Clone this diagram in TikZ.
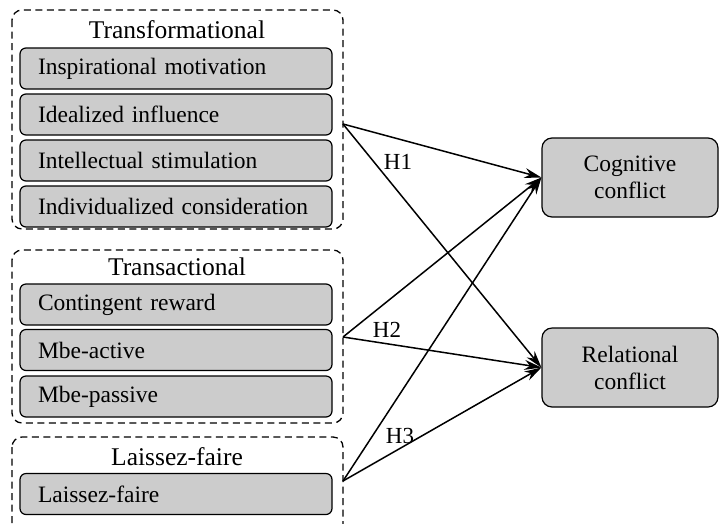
\documentclass[tikz,border=0pt]{standalone}
\usepackage{fontspec}
\setmainfont{Liberation Serif}
\usetikzlibrary{arrows.meta}
\begin{document}
\begin{tikzpicture}[x=1pt,y=-1pt,
  group/.style={draw, dash pattern=on 7pt off 4.5pt, line width=1.3pt, rounded corners=10pt},
  item/.style={draw, fill=black!20, line width=1.2pt, rounded corners=6pt, minimum width=312pt, minimum height=41pt, text width=276pt, inner xsep=18pt, align=left, font=\fontsize{23.5}{27}\selectfont},
  outc/.style={draw, fill=black!20, line width=1.2pt, rounded corners=10pt, minimum width=176pt, minimum height=79pt, align=center, font=\fontsize{23.5}{27}\selectfont},
  title/.style={font=\fontsize{25.5}{28}\selectfont, inner sep=0pt},
  hlab/.style={font=\fontsize{23}{26}\selectfont, inner sep=0pt},
  arr/.style={-{Stealth[length=17pt,width=10pt,inset=5.5pt]}, line width=1.5pt}]
\useasboundingbox (0,0) rectangle (719,523);
% groups
\draw[group] (12,10) rectangle (343,229);
\draw[group] (12,250) rectangle (343,423);
\draw[group] (12,437) rectangle (343,545);
\node[title] (t1) at (177,30) {Transformational};
\node[title] (t2) at (177,267) {Transactional};
\node[title] (t3) at (177,457) {Laissez-faire};
% items
\node[item] (a1) at (176,68.5) {Inspirational motivation};
\node[item] (a2) at (176,114.5) {Idealized influence};
\node[item] (a3) at (176,160.5) {Intellectual stimulation};
\node[item] (a4) at (176,206.5) {Individualized consideration};
\node[item] (b1) at (176,304.5) {Contingent reward};
\node[item] (b2) at (176,350) {Mbe-active};
\node[item] (b3) at (176,396.5) {Mbe-passive};
\node[item] (c1) at (176,494) {Laissez-faire};
% outcomes
\node[outc] (cog) at (630,177.5) {Cognitive\\conflict};
\node[outc] (rel) at (630,367.5) {Relational\\conflict};
% sources
\coordinate (s1) at (343,124);
\coordinate (s2) at (343,337);
\coordinate (s3) at (343,481);
\draw[arr] (s1) -- (cog.west);
\draw[arr] (s1) -- (rel.west);
\draw[arr] (s2) -- (cog.west);
\draw[arr] (s2) -- (rel.west);
\draw[arr] (s3) -- (cog.west);
\draw[arr] (s3) -- (rel.west);
\node[hlab] (h1) at (398,162) {H1};
\node[hlab] (h2) at (387,330) {H2};
\node[hlab] (h3) at (400,436) {H3};
\end{tikzpicture}
\end{document}
